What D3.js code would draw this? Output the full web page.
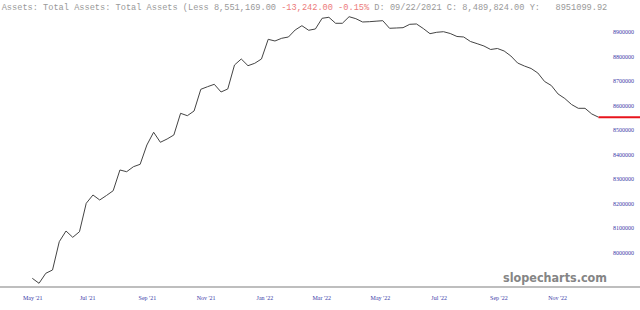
<!DOCTYPE html>
<html>
<head>
<meta charset="utf-8">
<script src="https://cdn.jsdelivr.net/npm/d3@7"></script>
<style>
  html, body { margin: 0; padding: 0; background: #fff; }
  svg { display: block; }
</style>
</head>
<body>
<div id="chart"></div>
<script>
// weekly readings (Wednesdays), first week below
const firstWeek = '2021-05-19'
const totalAssets = [
  7893900, 7873500, 7914300, 7927800, 8043200, 8086900, 8061200, 8084000, 8199900, 8233800,
  8213400, 8231700, 8251300, 8335800, 8328800, 8349200, 8359000, 8437800, 8489824, 8448800,
  8462300, 8478600, 8567100, 8557300, 8576500, 8665000, 8675600, 8685400, 8654000, 8666300,
  8764200, 8788700, 8761300, 8771100, 8788700, 8869000, 8862100, 8873100, 8878400, 8907000,
  8924500, 8905800, 8911100, 8954700, 8958800, 8934300, 8934300, 8961200, 8953100, 8939600,
  8940800, 8942900, 8944900, 8913900, 8915100, 8916400, 8930200, 8931500, 8913100, 8891900,
  8897600, 8900000, 8892700, 8880500, 8878400, 8860100, 8851100, 8841700, 8827400, 8831500,
  8821300, 8800900, 8772300, 8760100, 8749900, 8731500, 8696900, 8680500, 8645900, 8627500,
  8603000, 8587500, 8587500, 8564411, 8551169
]
const xTickDates = ['2021-05-19', '2021-07-15', '2021-09-15', '2021-11-15', '2022-01-15',
  '2022-03-15', '2022-05-15', '2022-07-15', '2022-09-15', '2022-11-15']
const yTickValues = [8000000, 8100000, 8200000, 8300000, 8400000, 8500000, 8600000, 8700000, 8800000, 8900000]
const header = [
  { text: 'Assets: Total Assets: Total Assets (Less 8,551,169.00 ', color: '#999' },
  { text: '-13,242.00 -0.15%', color: '#ec7b7b' },
  { text: ' D: 09/22/2021 C: 8,489,824.00 Y:   8951099.92', color: '#999' }
]

const parseDate = d3.utcParse('%Y-%m-%d')
const start = parseDate(firstWeek)
const dataset = totalAssets.map((v, i) => ({ date: d3.utcWeek.offset(start, i), value: v }))

const width = 640
const height = 310
const svg = d3.select('#chart')
  .append('svg')
  .attr('width', width)
  .attr('height', height)
  .attr('viewBox', [0, 0, width, height])

const xScale = d3.scaleUtc()
  .domain(d3.extent(dataset, d => d.date))
  .range([32.3, 598.5])
const yScale = d3.scaleLinear()
  .domain([8000000, 8900000])
  .range([252.3, 31.7])

// header line
svg.append('text')
  .attr('x', 1.7)
  .attr('y', 9.5)
  .style('white-space', 'pre')
  .attr('font-family', '"Liberation Mono", "DejaVu Sans Mono", monospace')
  .attr('font-size', '8.65px')
  .selectAll('tspan')
  .data(header)
  .join('tspan')
  .attr('fill', d => d.color)
  .text(d => d.text)

// bottom axis
svg.append('line')
  .attr('x1', 0)
  .attr('x2', width)
  .attr('y1', 287)
  .attr('y2', 287)
  .attr('stroke', '#a8a8a8')
  .attr('stroke-width', 1.6)
const axisX = d3.axisBottom(xScale)
  .tickValues(xTickDates.map(parseDate))
  .tickFormat(d3.utcFormat("%b '%y"))
  .tickSize(0)
  .tickPadding(0)
svg.append('g')
  .attr('class', 'axisX')
  .attr('transform', 'translate(0, 295.5)')
  .call(axisX)
  .call(g => g.select('.domain').remove())
  .selectAll('text')
  .attr('fill', '#3a3aa8')
  .attr('font-family', '"Liberation Serif", serif')
  .attr('font-size', '6px')

// right axis
const axisY = d3.axisRight(yScale)
  .tickValues(yTickValues)
  .tickFormat(d3.format('d'))
  .tickSize(0)
  .tickPadding(0)
svg.append('g')
  .attr('class', 'axisY')
  .attr('transform', 'translate(613, 0)')
  .call(axisY)
  .call(g => g.select('.domain').remove())
  .selectAll('text')
  .attr('fill', '#3a3aa8')
  .attr('font-family', '"Liberation Serif", serif')
  .attr('font-size', '6px')

// watermark
svg.append('text')
  .attr('x', 607)
  .attr('y', 281.5)
  .attr('text-anchor', 'end')
  .attr('fill', '#858585')
  .attr('font-family', '"DejaVu Sans", sans-serif')
  .attr('font-weight', 'bold')
  .attr('font-size', '13px')
  .attr('textLength', 104)
  .attr('lengthAdjust', 'spacingAndGlyphs')
  .text('slopecharts.com')

const line = d3.line()
  .x(d => xScale(d.date))
  .y(d => yScale(d.value))
svg.append('path')
  .datum(dataset)
  .attr('d', line)
  .attr('fill', 'none')
  .attr('stroke', '#444')
  .attr('stroke-width', 1)

// last value marker
const last = dataset[dataset.length - 1]
svg.append('line')
  .attr('x1', xScale(last.date))
  .attr('x2', width)
  .attr('y1', yScale(last.value))
  .attr('y2', yScale(last.value))
  .attr('stroke', '#e8141c')
  .attr('stroke-width', 2)
</script>
</body>
</html>
